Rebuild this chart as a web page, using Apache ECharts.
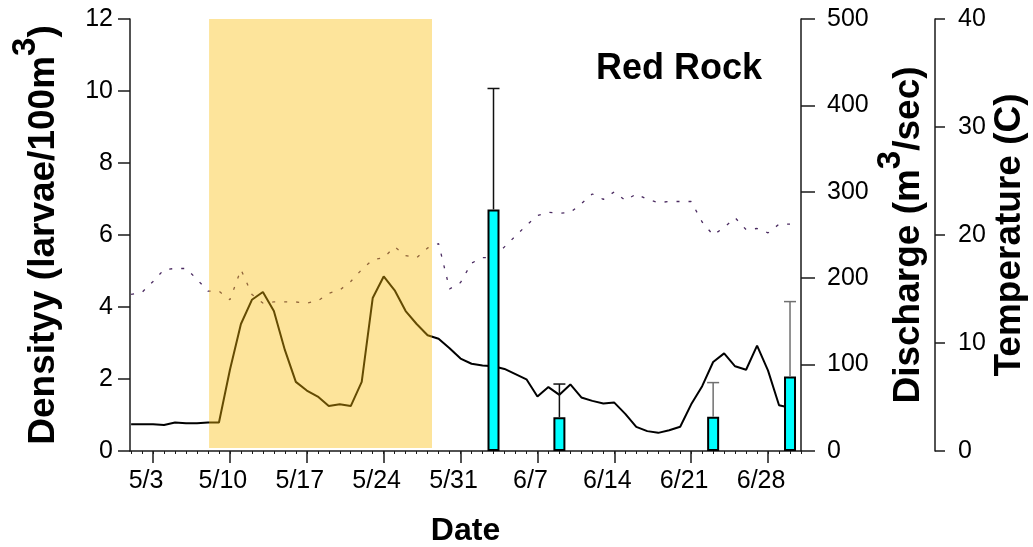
<!DOCTYPE html>
<html>
<head>
<meta charset="utf-8">
<script src="https://cdn.jsdelivr.net/npm/echarts@6/dist/echarts.min.js"></script>
<style>
  html, body { margin: 0; padding: 0; background: #ffffff; }
  #chart { width: 1033px; height: 547px; }
</style>
</head>
<body>
<div id="chart"></div>
<script>
// Day index along the x axis: 0 = May 1, 31 = June 1, 61 = July 1
const tickDays   = [2, 9, 16, 23, 30, 37, 44, 51, 58];
const tickLabels = ['5/3', '5/10', '5/17', '5/24', '5/31', '6/7', '6/14', '6/21', '6/28'];

// Daily river discharge (m3/sec), starting May 1
const discharge = [
  31, 31, 31, 30, 33, 32, 32, 33, 33, 94,
  147, 175, 184, 162, 117, 80, 70, 63, 52, 54,
  52, 80, 177, 202, 186, 162, 147, 134, 130, 119,
  107, 101, 99, 98, 95, 89, 83, 63, 74, 65,
  77, 62, 58, 55, 56, 43, 28, 23, 21, 24,
  28, 54, 75, 103, 113, 98, 94, 122, 93, 53,
  50
];

// Daily water temperature (C), starting May 1
const temperature = [
  14.5, 14.7, 15.7, 16.8, 16.9, 16.9, 15.9, 14.8, 14.8, 14.0,
  16.8, 14.5, 13.7, 13.8, 13.8, 13.8, 13.7, 13.9, 14.6, 14.9,
  15.7, 16.8, 17.7, 17.9, 18.9, 18.1, 17.9, 18.8, 19.2, 15.0,
  15.6, 17.4, 17.9, 17.9, 18.9, 19.9, 20.9, 21.8, 22.1, 22.0,
  22.1, 22.9, 23.8, 23.3, 24.0, 23.2, 23.8, 23.3, 23.0, 23.1,
  23.1, 23.1, 21.2, 20.0, 20.7, 21.6, 20.5, 20.6, 20.2, 21.0,
  21.0
];

// Larval density samples (larvae/100m3) with upper error limits
const sampleDays   = [33, 39, 53, 60];
const density      = [6.71, 0.94, 0.95, 2.07];
const densityUpper = [10.07, 1.86, 1.90, 4.15];

// Shaded period (day index range)
const shadedPeriod = [7.1, 27.4];

// Whisker colours per sample
const whiskerColors = ['#111111', '#111111', '#707070', '#707070'];

const FONT = 'Liberation Sans, Arial, Helvetica, sans-serif';
const AXIS_COLOR = '#1a1a1a';
const X_MIN = -0.1, X_MAX = 61;

const minorTickDays = [];
for (let d = 0; d <= 61; d++) minorTickDays.push(d);

const labelFor = {};
tickDays.forEach((d, i) => { labelFor[d] = tickLabels[i]; });

const chart = echarts.init(document.getElementById('chart'), null, { renderer: 'canvas' });

const titleRich = {
  t: { fontSize: 37, fontWeight: 'bold', fontFamily: FONT, color: '#000', lineHeight: 42, verticalAlign: 'bottom' },
  s: { fontSize: 33, fontWeight: 'bold', fontFamily: FONT, color: '#000', lineHeight: 42, verticalAlign: 'bottom', padding: [0, 0, 20, 0] }
};

const option = {
  backgroundColor: '#ffffff',
  animation: false,
  textStyle: { fontFamily: FONT },
  title: {
    text: 'Red Rock',
    right: 266,
    top: 46,
    textStyle: { fontSize: 36, fontWeight: 'bold', fontFamily: FONT, color: '#000' }
  },
  grid: { left: 130, right: 232, top: 19, bottom: 96, containLabel: false, outerBoundsMode: 'none' },
  xAxis: [
    {
      type: 'value',
      position: 'bottom',
      min: X_MIN, max: X_MAX,
      name: 'Date',
      nameLocation: 'middle',
      nameGap: 64,
      nameMoveOverlap: false,
      nameTextStyle: { fontSize: 32, fontWeight: 'bold', fontFamily: FONT, color: '#000' },
      axisLine: { show: true, onZero: false, lineStyle: { color: AXIS_COLOR, width: 1.5 } },
      axisTick: { show: true, length: 12, customValues: tickDays, lineStyle: { color: AXIS_COLOR, width: 1.5 } },
      axisLabel: {
        customValues: tickDays,
        formatter: v => labelFor[v] || '',
        fontSize: 25, fontFamily: FONT, color: '#000',
        margin: 18,
        padding: [0, 14, 0, 0]
      },
      splitLine: { show: false }
    },
    {
      type: 'value',
      position: 'bottom',
      min: X_MIN, max: X_MAX,
      axisLine: { show: false, onZero: false },
      axisTick: { show: true, length: 3, customValues: minorTickDays, lineStyle: { color: AXIS_COLOR, width: 1 } },
      axisLabel: { show: false },
      splitLine: { show: false }
    }
  ],
  yAxis: [
    {
      type: 'value',
      min: 0, max: 12, interval: 2,
      position: 'left',
      name: '{t|Densityy (larvae/100m}{s|3}{t|)}',
      nameLocation: 'middle',
      nameRotate: 90,
      nameGap: 68,
      nameMoveOverlap: false,
      nameTextStyle: { rich: titleRich },
      axisLine: { show: true, onZero: false, lineStyle: { color: AXIS_COLOR, width: 1.5 } },
      axisTick: { show: true, length: 12, lineStyle: { color: AXIS_COLOR, width: 1.5 } },
      axisLabel: { fontSize: 25, fontFamily: FONT, color: '#000', margin: 17 },
      splitLine: { show: false }
    },
    {
      type: 'value',
      min: 0, max: 500, interval: 100,
      position: 'right',
      name: '{t|Discharge (m}{s|3}{t|/sec)}',
      nameLocation: 'middle',
      nameRotate: 90,
      nameGap: 84,
      nameMoveOverlap: false,
      nameTextStyle: { rich: titleRich },
      axisLine: { show: true, onZero: false, lineStyle: { color: AXIS_COLOR, width: 1.5 } },
      axisTick: { show: true, length: 14, lineStyle: { color: AXIS_COLOR, width: 1.5 } },
      axisLabel: { fontSize: 25, fontFamily: FONT, color: '#000', margin: 26 },
      splitLine: { show: false }
    },
    {
      type: 'value',
      min: 0, max: 40, interval: 10,
      position: 'right',
      offset: 134,
      name: 'Temperature (C)',
      nameLocation: 'middle',
      nameRotate: 90,
      nameGap: 56,
      nameMoveOverlap: false,
      nameTextStyle: { fontSize: 37, fontWeight: 'bold', fontFamily: FONT, color: '#000' },
      axisLine: { show: true, onZero: false, lineStyle: { color: AXIS_COLOR, width: 1.5 } },
      axisTick: { show: true, length: 10, lineStyle: { color: AXIS_COLOR, width: 1.5 } },
      axisLabel: { fontSize: 25, fontFamily: FONT, color: '#000', margin: 23 },
      splitLine: { show: false }
    }
  ],
  series: [
    {
      name: 'Temperature',
      type: 'line',
      xAxisIndex: 0, yAxisIndex: 2,
      data: temperature.map((v, i) => [i, v]),
      showSymbol: false,
      silent: true,
      z: 2,
      lineStyle: { color: '#4a2a60', width: 1.3, type: [3, 9] }
    },
    {
      name: 'Discharge',
      type: 'line',
      xAxisIndex: 0, yAxisIndex: 1,
      data: discharge.map((v, i) => [i, v]),
      showSymbol: false,
      silent: true,
      z: 2,
      lineStyle: { color: '#000000', width: 2 }
    },
    {
      name: 'Shaded period',
      type: 'line',
      xAxisIndex: 0, yAxisIndex: 0,
      data: [],
      z: 3,
      silent: true,
      markArea: {
        silent: true,
        z: 3,
        itemStyle: { color: 'rgba(250, 187, 5, 0.4)' },
        data: [[{ xAxis: shadedPeriod[0], yAxis: 0.08 }, { xAxis: shadedPeriod[1], yAxis: 12 }]]
      }
    },
    {
      name: 'Density',
      type: 'bar',
      xAxisIndex: 0, yAxisIndex: 0,
      data: sampleDays.map((d, i) => [d, density[i]]),
      barWidth: 12,
      z: 5,
      itemStyle: { color: '#00ffff', borderColor: '#000000', borderWidth: 2 }
    },
    {
      name: 'Density error',
      type: 'custom',
      xAxisIndex: 0, yAxisIndex: 0,
      data: sampleDays.map((d, i) => [d, density[i], densityUpper[i]]),
      encode: { x: 0, y: [1, 2] },
      z: 6,
      silent: true,
      renderItem: (params, api) => {
        const base = api.coord([api.value(0), api.value(1)]);
        const top = api.coord([api.value(0), api.value(2)]);
        const color = whiskerColors[params.dataIndex];
        const half = 6;
        return {
          type: 'group',
          children: [
            { type: 'line', shape: { x1: base[0], y1: base[1], x2: top[0], y2: top[1] }, style: { stroke: color, lineWidth: 1.5 } },
            { type: 'line', shape: { x1: top[0] - half, y1: top[1], x2: top[0] + half, y2: top[1] }, style: { stroke: color, lineWidth: 1.5 } }
          ]
        };
      }
    }
  ]
};

chart.setOption(option);
</script>
</body>
</html>
